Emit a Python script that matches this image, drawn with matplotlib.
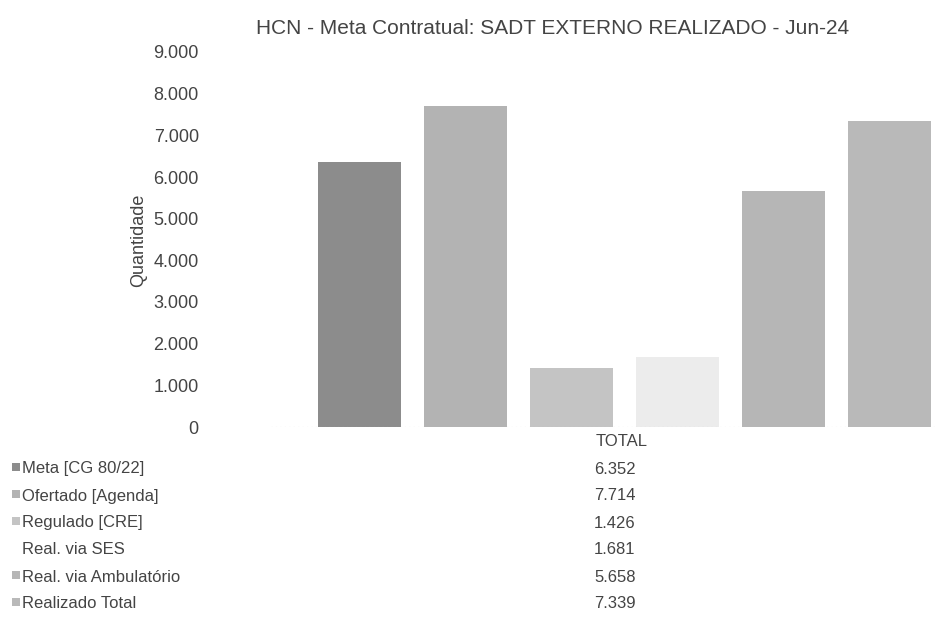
import matplotlib
matplotlib.use("Agg")
import matplotlib.pyplot as plt
from matplotlib.patches import Rectangle
from matplotlib.ticker import FuncFormatter

title = "HCN - Meta Contratual: SADT EXTERNO REALIZADO - Jun-24"
category = "TOTAL"
series_names = ["Meta [CG 80/22]", "Ofertado [Agenda]", "Regulado [CRE]",
                "Real. via SES", "Real. via Ambulatório", "Realizado Total"]
values = [6352, 7714, 1426, 1681, 5658, 7339]
colors = ["#8c8c8c", "#b3b3b3", "#c4c4c4", "#ececec", "#b6b6b6", "#b9b9b9"]
show_marker = [True, True, True, False, True, True]
y_ticks = list(range(0, 9001, 1000))

plt.rcParams["font.family"] = ["Liberation Sans Narrow", "Liberation Sans", "DejaVu Sans"]
text_color = "#444444"

W, H = 937, 635
fig = plt.figure(figsize=(W / 100, H / 100), dpi=100)

# axes area in pixels: left 271, baseline y=427, top (9000) y=52, right runs off the page
ax_left, ax_right, ax_bottom, ax_top = 271, 937, 427, 52
ax = fig.add_axes([ax_left / W, 1 - ax_bottom / H, (ax_right - ax_left) / W, (ax_bottom - ax_top) / H])

pitch = 106.0
x0 = (318 + 401) / 2
xs = list(range(len(values)))
ax.bar(xs, values, width=83 / pitch, color=colors, linewidth=0)
ax.set_xlim(-(x0 - ax_left) / pitch, (ax_right - x0) / pitch)
ax.set_ylim(0, 9000)
ax.set_yticks(y_ticks)
ax.yaxis.set_major_formatter(FuncFormatter(lambda v, p: f"{int(v):,}".replace(",", ".")))
ax.tick_params(axis="y", length=0, pad=52, labelsize=13, labelcolor=text_color)
ax.set_xticks([])
for s in ax.spines.values():
    s.set_visible(False)
ax.axhline(0, color="#bbbbbb", lw=0.8, ls=(0, (1, 3)))

fig.text(139 / W, 1 - 240 / H, "Quantidade", rotation=90, ha="center", va="center",
         fontsize=13, color=text_color)
fig.text(553 / W, 1 - 28 / H, title, ha="center", va="center", fontsize=15, color=text_color)

# data table under the chart
fig.text(622 / W, 1 - 441 / H, category, ha="center", va="center", fontsize=12, color=text_color)
row_y = 469
for name, val, col, mk in zip(series_names, values, colors, show_marker):
    yf = 1 - row_y / H
    if mk:
        fig.patches.append(Rectangle((12 / W, 1 - (row_y + 2) / H), 8 / W, 8 / H,
                                     transform=fig.transFigure, color=col, lw=0))
    fig.text(22 / W, yf, name, ha="left", va="center", fontsize=12, color=text_color)
    fig.text(615 / W, yf, f"{val:,}".replace(",", "."), ha="center", va="center",
             fontsize=12, color=text_color)
    row_y += 27

fig.savefig("out.png", dpi=100)
